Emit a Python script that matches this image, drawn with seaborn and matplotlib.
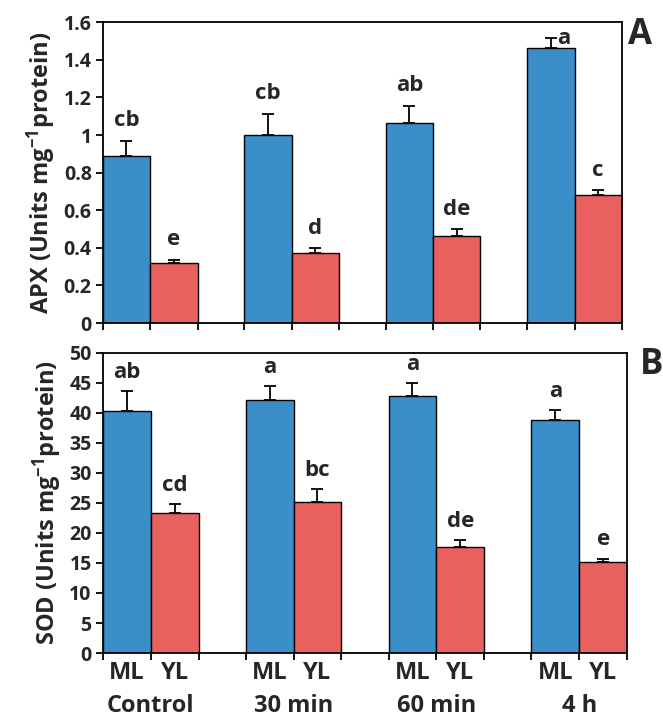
import matplotlib
matplotlib.use("Agg")
import matplotlib.pyplot as plt
import seaborn as sns
import pandas as pd
import numpy as np

groups = ["Control", "30 min", "60 min", "4 h"]
leaf = ["ML", "YL"]

apx_ml = [0.888, 1.002, 1.066, 1.463]
apx_yl = [0.317, 0.371, 0.465, 0.679]
apx_ml_err = [0.082, 0.111, 0.091, 0.053]
apx_yl_err = [0.021, 0.028, 0.033, 0.027]
apx_ml_let = ["cb", "cb", "ab", "a"]
apx_yl_let = ["e", "d", "de", "c"]

sod_ml = [40.25, 42.2, 42.9, 38.9]
sod_yl = [23.4, 25.1, 17.6, 15.1]
sod_ml_err = [3.35, 2.3, 2.1, 1.6]
sod_yl_err = [1.35, 2.2, 1.2, 0.6]
sod_ml_let = ["ab", "a", "a", "a"]
sod_yl_let = ["cd", "bc", "de", "e"]

sns.set_style("white")
FONT = ['Open Sans', 'DejaVu Sans']
plt.rcParams['font.family'] = FONT
plt.rcParams['font.weight'] = 'bold'
plt.rcParams['mathtext.fontset'] = 'custom'
plt.rcParams['mathtext.bf'] = 'Open Sans:bold'
plt.rcParams['mathtext.rm'] = 'Open Sans:bold'
plt.rcParams['mathtext.default'] = 'bf'

colors = {"ML": "#3A8FC9", "YL": "#E8615E"}

fig = plt.figure(figsize=(6.63, 7.18), dpi=100)
ax1 = fig.add_axes([0.155, 0.550, 0.783, 0.419])
ax2 = fig.add_axes([0.155, 0.0905, 0.791, 0.418])

W = 0.67

def panel(ax, ml, yl, mle, yle, mll, yll, ylim, yticks, ytl, ylabel, letter_off, show_x):
    df = pd.DataFrame({
        "group": groups * 2,
        "leaf": ["ML"] * 4 + ["YL"] * 4,
        "value": ml + yl,
    })
    sns.barplot(data=df, x="group", y="value", hue="leaf", order=groups,
                hue_order=leaf, palette=colors, width=W, errorbar=None,
                edgecolor="black", linewidth=1.0, ax=ax, legend=False,
                saturation=1)
    edges = []
    centers = []
    kinds = []
    for k, (cont, errs, lets) in enumerate(zip(ax.containers, [mle, yle], [mll, yll])):
        for p, e, l in zip(cont.patches, errs, lets):
            x = p.get_x() + p.get_width() / 2
            h = p.get_height()
            centers.append(x)
            kinds.append(leaf[k])
            edges.extend([p.get_x(), p.get_x() + p.get_width()])
            ax.errorbar([x], [h], yerr=[[0], [e]], fmt="none", ecolor="black",
                        elinewidth=1.3, capsize=4, capthick=1.3)
            if show_x is False and l == "a":
                # letter placed to the right of the error bar, as in the original
                ax.text(x + 0.09, h + e, l, ha="center", va="center",
                        fontsize=16, fontweight="bold")
            else:
                ax.text(x, h + e + letter_off, l, ha="center", va="bottom",
                        fontsize=16, fontweight="bold")
    edges = sorted(set(np.round(edges, 6)))
    ax.set_xlim(min(edges), max(edges))
    ax.set_ylim(*ylim)
    ax.set_yticks(yticks)
    ax.set_yticklabels(ytl, fontsize=14, fontweight="bold")
    ax.set_xticks(edges)
    ax.set_xticklabels([""] * len(edges))
    ax.tick_params(axis="both", which="major", direction="out", length=5,
                   width=1.3, color="black", left=True, bottom=True, pad=3)
    ax.set_ylabel(ylabel, fontsize=17, fontweight="bold", labelpad=4)
    ax.set_xlabel("")
    for s in ax.spines.values():
        s.set_visible(True)
        s.set_color("black")
        s.set_linewidth(1.3)
    if show_x:
        order = np.argsort(centers)
        ax.set_xticks([centers[i] for i in order], minor=True)
        ax.set_xticklabels([kinds[i] for i in order], minor=True,
                           fontsize=17, fontweight="bold")
        ax.tick_params(axis="x", which="minor", length=0, pad=6)
        for i, g in enumerate(groups):
            ax.text(i, -0.135, g, transform=ax.get_xaxis_transform(),
                    ha="center", va="top", fontsize=17, fontweight="bold")
    return ax

panel(ax1, apx_ml, apx_yl, apx_ml_err, apx_yl_err, apx_ml_let, apx_yl_let,
      (0, 1.6), [0, 0.2, 0.4, 0.6, 0.8, 1.0, 1.2, 1.4, 1.6],
      ["0", "0.2", "0.4", "0.6", "0.8", "1", "1.2", "1.4", "1.6"],
      r"APX (Units mg$^{-1}$protein)", 0.05, False)
panel(ax2, sod_ml, sod_yl, sod_ml_err, sod_yl_err, sod_ml_let, sod_yl_let,
      (0, 50), list(range(0, 51, 5)), [str(v) for v in range(0, 51, 5)],
      r"SOD (Units mg$^{-1}$protein)", 1.4, True)

fig.text(0.966, 0.951, "A", fontsize=25, fontweight="bold", ha="center", va="center")
fig.text(0.982, 0.492, "B", fontsize=25, fontweight="bold", ha="center", va="center")

fig.savefig("out.png", dpi=100)
